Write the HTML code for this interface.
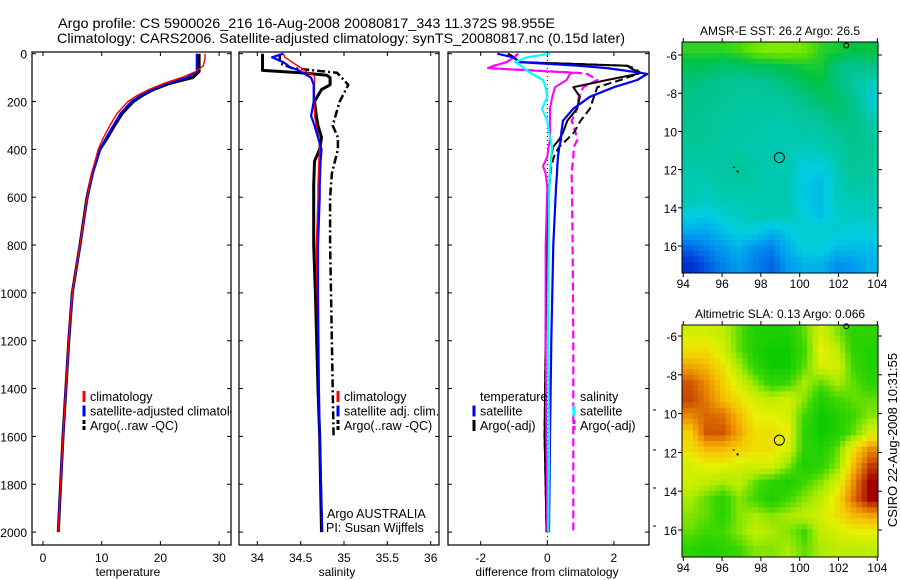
<!DOCTYPE html>
<html><head><meta charset="utf-8"><style>
html,body{margin:0;padding:0;background:#fff;}
svg{display:block;font-family:"Liberation Sans",sans-serif;}
</style></head><body>
<svg id="fig" width="900" height="580" xmlns="http://www.w3.org/2000/svg">
<defs><clipPath id="cp1"><rect x="32" y="52" width="199" height="493"/></clipPath></defs>
<text x="58" y="28" font-size="14" textLength="497" lengthAdjust="spacingAndGlyphs">Argo profile: CS 5900026_216 16-Aug-2008 20080817_343 11.372S 98.955E</text>
<text x="57" y="43" font-size="14" textLength="568" lengthAdjust="spacingAndGlyphs">Climatology: CARS2006. Satellite-adjusted climatology: synTS_20080817.nc (0.15d later)</text>
<g id="g"></g>
</svg>
<script>
// ---------- data ----------
const depths = [0,20,50,75,100,125,150,175,200,250,300,350,400,500,600,800,1000,1200,1400,1600,1800,2000];
const tempClim = [27.6,27.6,27.3,26,23.6,20.5,18,16,14.5,12.6,11.4,10.3,9.4,8.3,7.5,6.3,5.0,4.4,3.9,3.4,3.0,2.6];
const tempSat  = [26.2,26.2,26.2,26.2,24.5,21,18.5,16.6,15.1,13.2,12.0,10.8,9.7,8.5,7.6,6.3,5.0,4.4,3.9,3.4,3.0,2.6];
const tempArgo = [26.6,26.6,26.6,26.6,25.5,21.5,18.8,16.9,15.4,13.5,12.2,11.0,9.7,8.4,7.5,6.3,5.0,4.4,3.9,3.4,3.0,2.6];
const salDepths = [0,15,35,56,70,80,90,100,130,150,200,260,300,350,400,450,550,600,800,1000,1400,1600,2000];
const salClim = [34.30,34.32,34.40,34.49,34.55,34.58,34.65,34.66,34.66,34.66,34.66,34.66,34.68,34.71,34.72,34.71,34.70,34.70,34.68,34.69,34.71,34.72,34.75];
const salSat  = [34.30,34.17,34.30,34.38,34.48,34.52,34.57,34.62,34.65,34.65,34.65,34.62,34.66,34.70,34.74,34.73,34.72,34.72,34.70,34.70,34.71,34.72,34.75];
const salArgo = [34.06,34.06,34.06,34.06,34.06,34.50,34.80,34.84,34.84,34.74,34.66,34.68,34.70,34.74,34.72,34.66,34.65,34.65,34.65,34.67,34.70,34.72,34.74];
const salArgoRawDepths = [0,40,60,80,130,200,300,350,400,500,600,800,1000,1400,1600];
const salArgoRaw = [34.26,34.26,34.40,34.92,35.05,34.95,34.87,34.93,34.93,34.86,34.84,34.84,34.85,34.87,34.88];
const diffDepths = [0,15,35,50,60,80,85,110,140,180,230,280,330,360,390,430,470,500,560,800,1200,1600,2000];
const dTempSat  = [-1.5,-1.03,-0.82,0.9,1.8,2.8,3.0,2.7,2.0,1.28,0.78,0.47,0.42,0.41,0.36,0.32,0.30,0.29,0.26,0.18,0.12,0.08,0.05];
const dTempArgo = [-1.18,-1.0,-0.82,2.4,2.5,2.8,2.7,1.8,0.78,0.98,0.89,0.60,0.47,0.35,0.17,0.12,0.10,0.08,0.05,-0.02,-0.05,-0.08,-0.02];
const dTempRaw  = [-1.18,-1.0,-0.82,2.4,2.6,2.8,2.7,2.2,1.5,1.4,1.28,1.0,0.8,0.58,0.35,0.2,0.12,0.1,0.06,-0.02,-0.05,-0.08,-0.02];
const dSalArgo  = [-0.88,-1.0,-1.22,-1.6,-1.78,0.78,0.68,0.58,0.23,0.15,0.08,0.08,0.08,0.08,0.04,0,-0.13,-0.05,0,-0.05,-0.05,-0.03,0];
const dSalRaw   = [-0.88,-1.0,-1.22,-1.6,-1.78,0.9,1.2,1.5,1.08,0.95,0.9,0.73,0.85,0.9,0.8,0.78,0.75,0.73,0.74,0.76,0.78,0.78,0.78];
const dSalSat   = [0.08,-0.61,-0.97,-0.8,-0.7,-0.52,-0.45,-0.13,-0.05,0,-0.16,0,0.05,0.1,0.14,0.12,0.1,0.08,0.06,0.04,0.02,0.05,0.03];
const depthTicks = [0,200,400,600,800,1000,1200,1400,1600,1800,2000];
const tempTicks = [0,10,20,30];
const salTicks = [34,34.5,35,35.5,36];
const diffTicks = [-2,0,2];
const lonTicks = [94,96,98,100,102,104];
const latTicks = [-6,-8,-10,-12,-14,-16];
const latLabels = ["-6","-8","10","12","14","16"];
const sstGrid = [
[.72,.72,.72,.74,.78,.80,.80,.78,.72,.70,.68,.68],
[.66,.66,.64,.64,.66,.66,.68,.70,.70,.62,.58,.60],
[.62,.60,.58,.56,.56,.58,.62,.66,.68,.62,.54,.48],
[.60,.58,.56,.54,.54,.54,.56,.60,.64,.64,.58,.46],
[.58,.56,.54,.52,.52,.52,.52,.54,.58,.62,.60,.50],
[.58,.56,.54,.52,.52,.50,.50,.52,.52,.56,.60,.54],
[.54,.54,.52,.52,.50,.50,.50,.48,.50,.52,.58,.56],
[.52,.52,.52,.56,.52,.50,.50,.44,.44,.50,.56,.54],
[.50,.50,.52,.54,.52,.50,.50,.42,.40,.48,.54,.52],
[.50,.48,.50,.50,.50,.50,.50,.42,.40,.48,.50,.50],
[.44,.42,.46,.48,.50,.50,.50,.44,.40,.46,.48,.48],
[.36,.36,.40,.44,.44,.38,.42,.46,.46,.46,.44,.44],
[.26,.30,.34,.38,.32,.30,.38,.44,.44,.40,.40,.40],
[.16,.24,.30,.34,.30,.26,.34,.38,.38,.32,.34,.38]];
const slaGrid = [
[.45,.45,.40,.25,.10,.10,.10,.25,.45,.30,.15,.15],
[.55,.55,.45,.25,.10,.05,.05,.20,.50,.40,.15,.10],
[.70,.65,.55,.35,.15,.05,.05,.25,.45,.45,.20,.10],
[.85,.75,.60,.45,.30,.15,.20,.35,.25,.35,.25,.15],
[.88,.78,.65,.55,.45,.40,.45,.30,.10,.20,.25,.25],
[.75,.82,.80,.65,.50,.50,.45,.20,.05,.10,.20,.30],
[.60,.85,.85,.70,.55,.55,.50,.15,.05,.10,.25,.45],
[.55,.65,.65,.60,.55,.55,.45,.15,.10,.25,.55,.75],
[.45,.50,.50,.45,.45,.45,.30,.10,.15,.30,.65,.90],
[.45,.40,.35,.40,.25,.15,.10,.20,.30,.45,.75,1.0],
[.35,.25,.15,.30,.20,.10,.20,.30,.40,.55,.80,1.0],
[.30,.25,.15,.30,.35,.30,.35,.40,.45,.55,.65,.70],
[.25,.20,.20,.30,.40,.35,.30,.20,.40,.45,.50,.50],
[.15,.10,.15,.20,.30,.30,.35,.25,.35,.40,.40,.40]];
const floatLon = [98.95], floatLat = [-11.37];

// ---------- helpers ----------
const NS="http://www.w3.org/2000/svg";
const G=document.getElementById('g');
function mk(tag,attrs,parent){const e=document.createElementNS(NS,tag);for(const k in attrs)e.setAttribute(k,attrs[k]);(parent||G).appendChild(e);return e;}
function txt(s,x,y,size,anchor,parent){const t=mk('text',{x:x,y:y,'font-size':size,'text-anchor':anchor||'start'},parent);t.textContent=s;return t;}
const yD = d => 53.7 + d*0.2392;
const PT={x0:32,x1:231}, PS={x0:239,x1:439}, PD={x0:448,x1:649};
const xT = v => 43 + v*5.87;
const xS = v => 257.3 + (v-34)*86.7;
const xDf = v => 547.3 + v*33.3;
const TOP=52, BOT=545;

function frame(P,name){
  const r=mk('rect',{x:P.x0,y:TOP,width:P.x1-P.x0,height:BOT-TOP,fill:'none',stroke:'#000','stroke-width':1.2});
  
  
  depthTicks.forEach(d=>{const y=yD(d);
    mk('line',{x1:P.x0,y1:y,x2:P.x0+4,y2:y,stroke:'#000'});
    mk('line',{x1:P.x1,y1:y,x2:P.x1-4,y2:y,stroke:'#000'});});
}
function xticks(ticks,f,P,name,fmt){
  const g=mk('g',{});
  
  
  ticks.forEach(v=>{const x=f(v);
    mk('line',{x1:x,y1:BOT,x2:x,y2:BOT-4,stroke:'#000'},g);
    mk('line',{x1:x,y1:TOP,x2:x,y2:TOP+4,stroke:'#000'},g);
    txt(fmt?fmt(v):String(v),x,562,12,'middle',g);});
}
function line(xs,ds,f,color,w,dash,name){
  const pts=xs.map((v,i)=>f(v).toFixed(1)+','+yD(ds[i]).toFixed(1)).join(' ');
  const p=mk('polyline',{points:pts,fill:'none',stroke:color,'stroke-width':w,'stroke-linejoin':'round'});
  if(dash)p.setAttribute('stroke-dasharray',dash);
  
  
}
function legend(items,bx,ty,name,clip){
  const g=mk('g',{});
  if(clip) g.setAttribute('clip-path',clip);
  
  
  items.forEach((it,i)=>{const y=ty+i*14.5;
    if(it[1]) mk('line',{x1:bx,y1:y-6,x2:bx,y2:y+5,stroke:it[1],'stroke-width':3,'stroke-dasharray':it[2]||''},g);
    txt(it[0],bx+6,y+4,12.5,'start',g);});
}

// ---------- panels ----------
frame(PT,'temperature-panel'); frame(PS,'salinity-panel'); frame(PD,'difference-panel');
const yl=mk('g',{});


depthTicks.forEach(d=>txt(String(d),27,yD(d)+5,12,'end',yl));
xticks(tempTicks,xT,PT,'temperature-x-ticks');
xticks(salTicks,xS,PS,'salinity-x-ticks');
xticks(diffTicks,xDf,PD,'difference-x-ticks');
const t1=txt('temperature',128,576,12,'middle');  
const t2=txt('salinity',337,576,12,'middle');  
const t3=txt('difference from climatology',547,576,12,'middle');  

line(tempArgo,depths,xT,'#000',3,'','temp-argo-line');
line(tempSat,depths,xT,'#0000ff',2.2,'','temp-satellite-line');
line(tempClim,depths,xT,'#ff0000',1.4,'','temp-climatology-line');
legend([['climatology','#ff0000'],['satellite-adjusted climatology','#0000ff'],['Argo(..raw -QC)','#000','4,2']],84,397,'temperature-legend','url(#cp1)');

line(salArgoRaw,salArgoRawDepths,xS,'#000',2.5,'8,3,2,3','salinity-argo-raw-line');
line(salArgo,salDepths,xS,'#000',3,'','salinity-argo-line');
line(salClim,salDepths,xS,'#ff0000',1.4,'','salinity-climatology-line');
line(salSat,salDepths,xS,'#0000ff',2.2,'','salinity-satellite-line');
legend([['climatology','#ff0000'],['satellite adj. clim.','#0000ff'],['Argo(..raw -QC)','#000','4,2']],338,397,'salinity-legend');
const ag=mk('g',{});  
txt('Argo AUSTRALIA',327,518,12.5,'start',ag); txt('PI: Susan Wijffels',326,532,12.5,'start',ag);

mk('line',{x1:xDf(0),y1:TOP,x2:xDf(0),y2:BOT,stroke:'#000','stroke-dasharray':'1,3'});
line(dSalRaw,diffDepths,xDf,'#ff00ff',2.2,'8,4','diff-salinity-argo-raw-line');
line(dTempRaw,diffDepths,xDf,'#000',2,'8,4','diff-temperature-argo-raw-line');
line(dTempArgo,diffDepths,xDf,'#000',2,'','diff-temperature-argo-line');
line(dSalArgo,diffDepths,xDf,'#ff00ff',2,'','diff-salinity-argo-line');
line(dTempSat,diffDepths,xDf,'#0000ff',2.2,'','diff-temperature-satellite-line');
line(dSalSat,diffDepths,xDf,'#00ffff',2.2,'','diff-salinity-satellite-line');
legend([['temperature',null],['satellite','#0000ff'],['Argo(-adj)','#000']],474,397,'difference-temperature-legend');
legend([['salinity',null],['satellite','#00ffff'],['Argo(-adj)','#ff00ff','4,2']],574,397,'difference-salinity-legend');
[410,450,488,526].forEach(y=>mk('line',{x1:653,y1:y,x2:656,y2:y,stroke:'#000'}));

// ---------- maps ----------
function lerpStops(stops,t){t=Math.max(0,Math.min(1,t));
  for(let i=1;i<stops.length;i++){if(t<=stops[i][0]){const a=stops[i-1],b=stops[i],f=(t-a[0])/(b[0]-a[0]);
    return 'rgb('+[1,2,3].map(k=>Math.round(a[k]+(b[k]-a[k])*f)).join(',')+')';}}
  const l=stops[stops.length-1];return 'rgb('+l[1]+','+l[2]+','+l[3]+')';}
const sstStops=[[0,0,0,140],[0.2,0,60,220],[0.33,0,150,240],[0.43,0,205,225],[0.52,0,200,165],[0.6,0,195,135],[0.68,0,195,70],[0.76,90,225,0],[0.85,170,245,0]];
const slaStops=[[0,0,200,0],[0.2,60,215,0],[0.35,170,235,0],[0.5,230,240,0],[0.62,245,200,0],[0.75,235,140,0],[0.88,200,70,0],[1,160,0,0]];
function sample(grid,r,c){
  const R=grid.length,C=grid[0].length;
  r=Math.max(0,Math.min(R-1,r)); c=Math.max(0,Math.min(C-1,c));
  const r0=Math.floor(r),c0=Math.floor(c),r1=Math.min(R-1,r0+1),c1=Math.min(C-1,c0+1),fr=r-r0,fc=c-c0;
  return grid[r0][c0]*(1-fr)*(1-fc)+grid[r0][c1]*(1-fr)*fc+grid[r1][c0]*fr*(1-fc)+grid[r1][c1]*fr*fc;
}
function drawMap(M,grid,stops,name,title){
  const g=mk('g',{});
  
  
  const xL=lon=>683.3+(lon-94)*19.4, yL=lat=>M.y6+(-6-lat)*M.dy;
  const rows=grid.length, cols=grid[0].length, S=3;
  const cw=(M.x1-M.x0)/(cols*S), ch=(M.y1-M.y0)/(rows*S);
  for(let r=0;r<rows*S;r++)for(let c=0;c<cols*S;c++){
    const v=sample(grid,(r+0.5)/S-0.5,(c+0.5)/S-0.5);
    const cell=mk('rect',{x:(M.x0+c*cw).toFixed(2),y:(M.y0+r*ch).toFixed(2),width:(cw+0.5).toFixed(2),height:(ch+0.5).toFixed(2),fill:lerpStops(stops,v)},g);
    
    
  }
  mk('rect',{x:M.x0,y:M.y0,width:M.x1-M.x0,height:M.y1-M.y0,fill:'none',stroke:'#000'},g);
  lonTicks.forEach(l=>{const x=xL(l);mk('line',{x1:x,y1:M.y1,x2:x,y2:M.y1+4,stroke:'#000'},g);mk('line',{x1:x,y1:M.y0,x2:x,y2:M.y0-4,stroke:'#000'},g);txt(String(l),x,M.y1+15,12,'middle',g);});
  latTicks.forEach((l,i)=>{const y=yL(l);mk('line',{x1:M.x0-4,y1:y,x2:M.x0,y2:y,stroke:'#000'},g);mk('line',{x1:M.x1,y1:y,x2:M.x1+4,y2:y,stroke:'#000'},g);txt(latLabels[i],M.x0-5,y+5,12,'end',g);});
  floatLon.forEach((lo,i)=>mk('circle',{cx:xL(lo),cy:yL(floatLat[i]),r:5,fill:'none',stroke:'#000'},g));
  mk('circle',{cx:xL(102.4),cy:yL(-5.5),r:2.5,fill:'none',stroke:'#000'},g);
  mk('rect',{x:xL(96.8)-1,y:yL(-12.1)-1,width:2,height:2,fill:'#000'},g);
  mk('rect',{x:xL(96.6)-1,y:yL(-11.85),width:2,height:1,fill:'#000'},g);
  txt(title,(M.x0+M.x1)/2,M.y0-7,12,'middle',g);
}
drawMap({x0:682,x1:878,y0:42,y1:273,y6:55,dy:19.1},sstGrid,sstStops,'sst-map','AMSR-E SST: 26.2 Argo: 26.5');
drawMap({x0:682,x1:878,y0:325,y1:557,y6:336,dy:19.4},slaGrid,slaStops,'sla-map','Altimetric SLA: 0.13 Argo: 0.066');
const ts=txt('CSIRO 22-Aug-2008 10:31:55',0,0,13,'middle');
ts.setAttribute('transform','translate(897,440) rotate(-90)');


</script>
</body></html>
